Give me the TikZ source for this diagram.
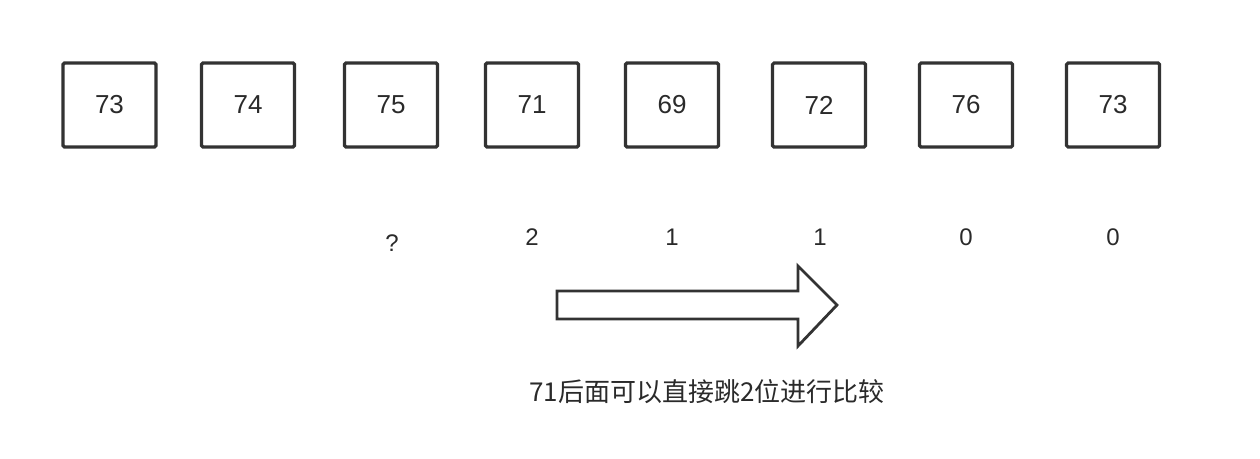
\documentclass[tikz,border=0pt]{standalone}
\usepackage{fontspec}
\setmainfont{Liberation Sans}
\newfontfamily\cjk{Noto Sans CJK SC}
\definecolor{ink}{HTML}{333333}
\definecolor{txt}{HTML}{2A2A2A}
\begin{document}
\begin{tikzpicture}[x=1pt,y=-1pt,
  cell/.style={draw=ink,line width=3.2pt,rounded corners=1.5pt,minimum width=93pt,minimum height=84pt,inner sep=0pt,text=txt,font=\fontsize{26}{28}\selectfont},
  lab/.style={text=txt,font=\fontsize{24}{28}\selectfont,inner sep=0pt},
  bigarrow/.style={draw=ink,line width=2.8pt,fill=white,line join=miter}]
\useasboundingbox (0,0) rectangle (1260,458);
\node[cell] (c1) at (109.5,105) {73};
\node[cell] (c2) at (248,105) {74};
\node[cell] (c3) at (391,105) {75};
\node[cell] (c4) at (532,105) {71};
\node[cell] (c5) at (672,105) {69};
\node[cell] (c6) at (819,105) {72};
\node[cell] (c7) at (966,105) {76};
\node[cell] (c8) at (1113,105) {73};
\node[lab] (l3) at (392,243) {?};
\node[lab] (l4) at (532,237) {2};
\node[lab] (l5) at (672,237) {1};
\node[lab] (l6) at (820,237) {1};
\node[lab] (l7) at (966,237) {0};
\node[lab] (l8) at (1113,237) {0};
\draw[bigarrow] (557,291) -- (798,291) -- (798,266) -- (837,305) -- (798,346) -- (798,319) -- (557,319) -- cycle;
\node[text=txt,inner sep=0pt,font=\cjk\fontsize{26}{30}\selectfont] (cap) at (707,392) {71后面可以直接跳2位进行比较};
\end{tikzpicture}
\end{document}
